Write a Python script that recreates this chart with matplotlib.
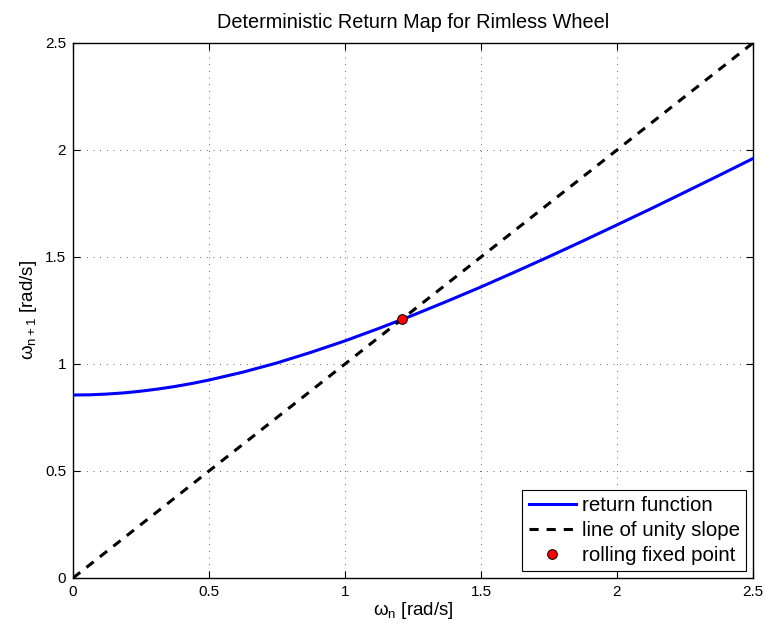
import matplotlib
matplotlib.use("Agg")
import matplotlib.pyplot as plt

plt.rcParams['font.family'] = ['Liberation Sans', 'DejaVu Sans']
plt.rcParams['mathtext.fontset'] = 'custom'
plt.rcParams['mathtext.rm'] = 'Liberation Sans'
plt.rcParams['mathtext.it'] = 'Liberation Sans'

# data
omega_n = [0.0, 0.0625, 0.125, 0.1875, 0.25, 0.3125, 0.375, 0.4375, 0.5, 0.625, 0.75, 0.875,
           1.0, 1.125, 1.25, 1.375, 1.5, 1.625, 1.75, 1.875, 2.0, 2.125, 2.25, 2.375, 2.5]
omega_next = [0.855, 0.856, 0.8595, 0.865, 0.873, 0.883, 0.895, 0.909, 0.925, 0.962, 1.005, 1.0545,
              1.108, 1.1665, 1.228, 1.293, 1.360, 1.430, 1.5015, 1.575, 1.650, 1.7255, 1.803, 1.881, 1.960]
unity_x = [0.0, 2.5]
unity_y = [0.0, 2.5]
fixed_point = [1.21, 1.21]
ticks = [0, 0.5, 1, 1.5, 2, 2.5]
tick_labels = ['0', '0.5', '1', '1.5', '2', '2.5']

fig = plt.figure(figsize=(7.65, 6.31), dpi=100)
ax = fig.add_axes([0.0954, 0.0840, 0.8889, 0.8479])

ax.plot(omega_n, omega_next, color='#0000ff', lw=2.2, label='return function', zorder=3)
ax.plot(unity_x, unity_y, color='black', lw=2.2, ls=(0, (3.0, 2.6)), label='line of unity slope', zorder=3)
ax.plot([fixed_point[0]], [fixed_point[1]], 'o', ms=7, mfc='red', mec='black', mew=0.7,
        ls='none', label='rolling fixed point', zorder=4)

ax.set_xlim(0, 2.5)
ax.set_ylim(0, 2.5)
ax.set_xticks(ticks)
ax.set_xticklabels(tick_labels)
ax.set_yticks(ticks)
ax.set_yticklabels(tick_labels)
ax.tick_params(direction='in', top=True, right=True, length=5, width=0.8, labelsize=11, pad=5)
ax.grid(True, color='#333333', ls=(0, (1, 7)), lw=0.6)
for s in ax.spines.values():
    s.set_linewidth(1.0)

ax.set_title('Deterministic Return Map for Rimless Wheel', fontsize=14.3, pad=11)
ax.set_xlabel(r'ω$_{\mathrm{n}}$ [rad/s]', fontsize=13.5, labelpad=1)
ax.set_ylabel(r'ω$_{\mathrm{n+1}}$ [rad/s]', fontsize=13.5, labelpad=4)

leg = ax.legend(loc='lower right', fontsize=14.8, fancybox=False, edgecolor='black',
                framealpha=1, handlelength=2.3, borderpad=0.3, labelspacing=0.3,
                handletextpad=0.3, borderaxespad=0.33)
leg.get_frame().set_linewidth(0.8)

fig.savefig('out.png', dpi=100)
